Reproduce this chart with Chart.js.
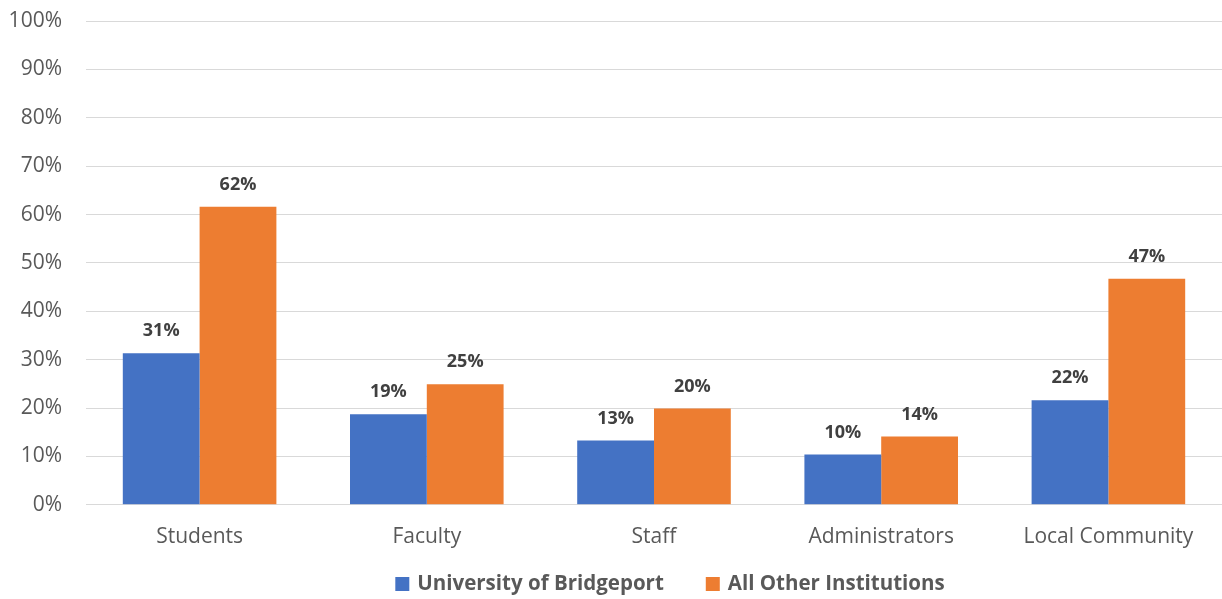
<!DOCTYPE html>
<html>
<head>
<meta charset="utf-8">
<script src="https://cdn.jsdelivr.net/npm/chart.js@4"></script>
<style>
  html, body { margin: 0; padding: 0; background: #fff; }
  #wrap { width: 1222px; height: 599px; }
</style>
</head>
<body>
<div id="wrap"><canvas id="chart" width="1222" height="599"></canvas></div>
<script>
// Groups and values (percent)
const categories = ['Students', 'Faculty', 'Staff', 'Administrators', 'Local Community'];
const bridgeport = [31.3, 18.7, 13.3, 10.4, 21.6];
const otherInstitutions = [61.6, 24.9, 19.9, 14.1, 46.7];
const seriesNames = ['University of Bridgeport', 'All Other Institutions'];

const FONT = '"Open Sans", Lato, sans-serif';
const TEXT = '#595959';

// Bold percent labels above each bar
const barLabels = {
  id: 'barLabels',
  afterDatasetsDraw(chart) {
    const ctx = chart.ctx;
    ctx.save();
    ctx.font = 'bold 18px ' + FONT;
    ctx.fillStyle = '#404040';
    ctx.textAlign = 'center';
    ctx.textBaseline = 'middle';
    chart.data.datasets.forEach((ds, i) => {
      chart.getDatasetMeta(i).data.forEach((bar, j) => {
        ctx.fillText(Math.round(ds.data[j]) + '%', bar.x, bar.y - 22);
      });
    });
    ctx.restore();
  }
};

// Legend row under the axis, drawn by hand to get the wide item gap
const bottomLegend = {
  id: 'bottomLegend',
  afterDraw(chart) {
    const ctx = chart.ctx;
    const box = 14, gapText = 8, gapItem = 42, centerX = 670, y = 584;
    ctx.save();
    ctx.font = 'bold 20.5px ' + FONT;
    ctx.textBaseline = 'middle';
    ctx.textAlign = 'left';
    const items = chart.data.datasets.map(ds => ({
      text: ds.label, color: ds.backgroundColor, w: ctx.measureText(ds.label).width
    }));
    const total = items.reduce((s, it) => s + box + gapText + it.w, 0) + gapItem * (items.length - 1);
    let x = centerX - total / 2;
    items.forEach(it => {
      ctx.fillStyle = it.color;
      ctx.fillRect(x, y - box / 2, box, box);
      ctx.fillStyle = TEXT;
      ctx.fillText(it.text, x + box + gapText, y);
      x += box + gapText + it.w + gapItem;
    });
    ctx.restore();
  }
};

new Chart(document.getElementById('chart'), {
  type: 'bar',
  data: {
    labels: categories,
    datasets: [
      { label: seriesNames[0], data: bridgeport, backgroundColor: '#4472C4' },
      { label: seriesNames[1], data: otherInstitutions, backgroundColor: '#ED7D31' }
    ]
  },
  options: {
    responsive: false,
    animation: false,
    datasets: { bar: { barPercentage: 1, categoryPercentage: 0.676 } },
    layout: { padding: { top: 0, left: 8, right: 0, bottom: 37 } },
    plugins: {
      tooltip: { enabled: false },
      legend: { display: false }
    },
    scales: {
      x: {
        grid: { display: false },
        border: { display: true, color: '#d9d9d9' },
        ticks: { font: { family: FONT, size: 21 }, color: TEXT, padding: 12 }
      },
      y: {
        min: 0,
        max: 100,
        grid: { color: '#d9d9d9', drawTicks: false },
        border: { display: false },
        ticks: {
          stepSize: 10,
          font: { family: FONT, size: 21 },
          color: TEXT,
          padding: 24,
          callback: v => v + '%'
        },
        afterFit(scale) {
          scale.width = 78;
          scale.paddingTop = 21;
        }
      }
    }
  },
  plugins: [barLabels, bottomLegend]
});
</script>
</body>
</html>
